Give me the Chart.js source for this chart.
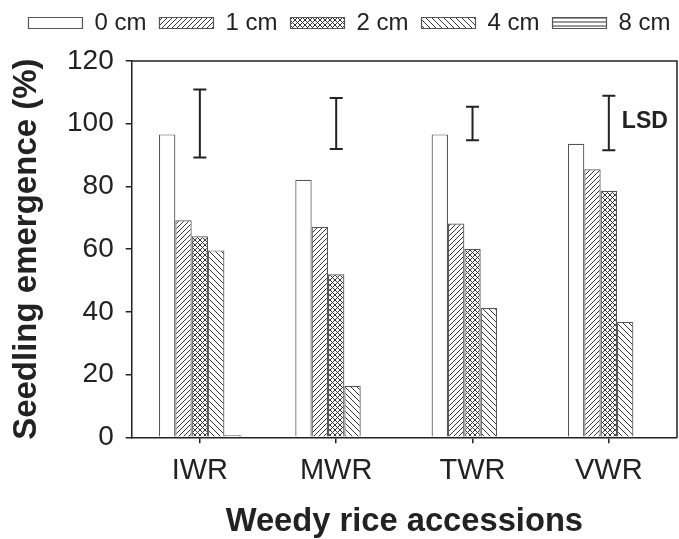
<!DOCTYPE html>
<html>
<head>
<meta charset="utf-8">
<script src="https://cdn.jsdelivr.net/npm/chart.js@4.4.1/dist/chart.umd.min.js"></script>
<style>
  html, body { margin: 0; padding: 0; background: #fff; }
  #wrap { width: 679px; height: 539px; }
</style>
</head>
<body>
<div id="wrap"><canvas id="emergenceChart"></canvas></div>
<script>
// categories and values
const accessions = ['IWR', 'MWR', 'TWR', 'VWR'];
const depthLabels = ['0 cm', '1 cm', '2 cm', '4 cm', '8 cm'];
const depth0 = [96.6, 82.1, 96.6, 93.6];
const depth1 = [69.2, 67.1, 68.2, 85.5];
const depth2 = [64.1, 52.0, 60.1, 78.6];
const depth4 = [59.6, 16.4, 41.2, 36.8];
const depth8 = [0.7, 0, 0, 0];
// LSD bars (low / high end)
const lsdLow = [89.2, 91.9, 94.7, 91.5];
const lsdHigh = [110.9, 108.2, 105.4, 108.9];
const yTicks = [0, 20, 40, 60, 80, 100, 120];

const FONT = '"Liberation Sans", Arial, Helvetica, sans-serif';
const INK = '#222';

// hatch patterns
function makePattern(size, draw) {
    const c = document.createElement('canvas');
    c.width = size; c.height = size;
    const g = c.getContext('2d');
    g.fillStyle = '#fff';
    g.fillRect(0, 0, size, size);
    g.strokeStyle = '#333';
    g.lineWidth = 1;
    draw(g, size);
    return g.createPattern(c, 'repeat');
}

function slash(g, s) {
    g.beginPath();
    g.moveTo(0, s); g.lineTo(s, 0);
    g.moveTo(-1, 1); g.lineTo(1, -1);
    g.moveTo(s - 1, s + 1); g.lineTo(s + 1, s - 1);
    g.stroke();
}
function backslash(g, s) {
    g.beginPath();
    g.moveTo(0, 0); g.lineTo(s, s);
    g.moveTo(s - 1, -1); g.lineTo(s + 1, 1);
    g.moveTo(-1, s - 1); g.lineTo(1, s + 1);
    g.stroke();
}

const pat1 = makePattern(5, slash);
const pat2 = makePattern(5, (g, s) => { g.strokeStyle = '#333'; g.lineWidth = 1; slash(g, s); backslash(g, s); });
const pat4 = makePattern(6, backslash);
const pat8 = makePattern(4, (g, s) => {
    g.beginPath(); g.moveTo(0, 2); g.lineTo(s, 2); g.stroke();
});

const fills = ['#ffffff', pat1, pat2, pat4, pat8];
const series = [depth0, depth1, depth2, depth4, depth8];

// keep the legend on one row, fixed height, nudged right like the figure
const legendFit = {
    id: 'legendFit',
    beforeInit(chart) {
        const origFit = chart.legend.fit;
        chart.legend.fit = function () {
            this.maxWidth = 760;
            origFit.call(this);
            this.height = 63;
        };
    },
    afterLayout(chart) {
        chart.legend.left += 11;
        chart.legend.right += 11;
    }
};

const frame = {
    id: 'frame',
    afterDraw(chart) {
        const { ctx, chartArea: a } = chart;
        ctx.save();
        ctx.strokeStyle = INK;
        ctx.lineWidth = 1.5;
        ctx.beginPath();
        ctx.moveTo(a.left, a.top);
        ctx.lineTo(a.right, a.top);
        ctx.lineTo(a.right, a.bottom);
        ctx.stroke();
        ctx.restore();
    }
};

const lsdBars = {
    id: 'lsdBars',
    afterDatasetsDraw(chart) {
        const { ctx, scales: { x, y } } = chart;
        ctx.save();
        ctx.strokeStyle = INK;
        ctx.lineWidth = 2;
        accessions.forEach((name, i) => {
            const px = x.getPixelForValue(i);
            const top = y.getPixelForValue(lsdHigh[i]);
            const bot = y.getPixelForValue(lsdLow[i]);
            ctx.beginPath();
            ctx.moveTo(px, top); ctx.lineTo(px, bot);
            ctx.moveTo(px - 6.5, top); ctx.lineTo(px + 6.5, top);
            ctx.moveTo(px - 6.5, bot); ctx.lineTo(px + 6.5, bot);
            ctx.stroke();
        });
        const last = accessions.length - 1;
        ctx.font = 'bold 23px ' + FONT;
        ctx.fillStyle = INK;
        ctx.textBaseline = 'middle';
        ctx.fillText('LSD', x.getPixelForValue(last) + 13,
            y.getPixelForValue((lsdHigh[last] + lsdLow[last]) / 2 + 0.5));
        ctx.restore();
    }
};

const ctx = document.getElementById('emergenceChart').getContext('2d');
new Chart(ctx, {
    type: 'bar',
    data: {
        labels: accessions,
        datasets: series.map((vals, i) => ({
            label: depthLabels[i],
            data: vals,
            backgroundColor: fills[i],
            borderColor: '#555',
            borderWidth: 1.2,
            barPercentage: 1.0,
            categoryPercentage: 0.6
        }))
    },
    options: {
        responsive: true,
        maintainAspectRatio: false,
        animation: false,
        layout: { padding: { top: -2, right: 2, bottom: 0, left: 0 } },
        plugins: {
            legend: {
                position: 'top',
                labels: {
                    boxWidth: 54,
                    boxHeight: 11,
                    padding: 13,
                    color: INK,
                    font: { family: FONT, size: 24 }
                }
            },
            tooltip: { enabled: false }
        },
        scales: {
            x: {
                grid: { display: true, drawOnChartArea: false, offset: false, tickLength: 6, color: INK, lineWidth: 1.5 },
                border: { display: true, color: INK, width: 1.5 },
                ticks: { color: INK, padding: 10, font: { family: FONT, size: 29 } },
                title: {
                    display: true,
                    text: 'Weedy rice accessions',
                    color: INK,
                    padding: { top: 0, bottom: -3 },
                    font: { family: FONT, size: 32.7, weight: 'bold' }
                },
                afterFit(scale) { scale.height = 101.7; }
            },
            y: {
                min: 0,
                max: 120,
                afterBuildTicks(scale) { scale.ticks = yTicks.map(v => ({ value: v })); },
                grid: { display: true, drawOnChartArea: false, tickLength: 6, color: INK, lineWidth: 1.5 },
                border: { display: true, color: INK, width: 1.5 },
                ticks: { color: INK, padding: 12, font: { family: FONT, size: 28 } },
                title: {
                    display: true,
                    text: 'Seedling emergence (%)',
                    color: INK,
                    padding: { top: 7, bottom: 0 },
                    font: { family: FONT, size: 33, weight: 'bold' }
                },
                afterFit(scale) { scale.width = 131.7; }
            }
        }
    },
    plugins: [legendFit, lsdBars, frame]
});
</script>
</body>
</html>
